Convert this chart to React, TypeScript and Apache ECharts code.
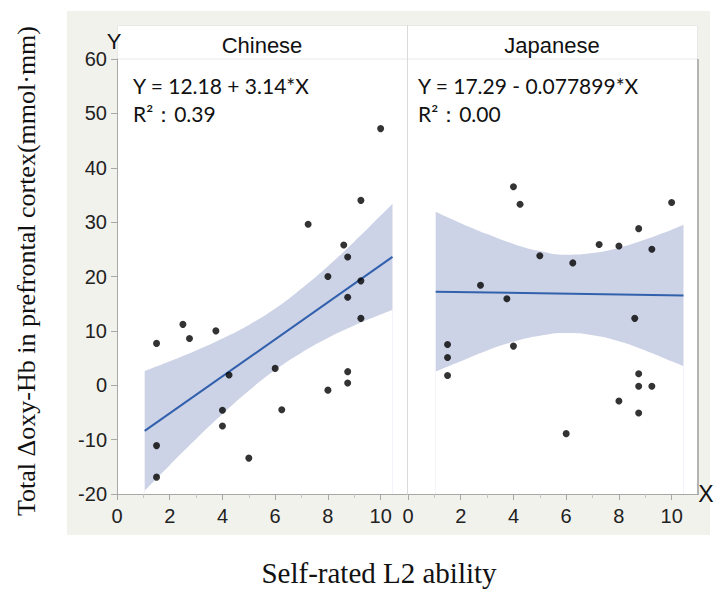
import React, { useEffect, useRef } from "react";
import * as echarts from "echarts";

// ---- data ----
const panelNames = ["Chinese", "Japanese"];
const equations = ["Y = 12.18 + 3.14*X", "Y = 17.29 - 0.077899*X"];
const r2Texts = ["R²：0.39", "R²：0.00"];

const xTickValues = [0, 2, 4, 6, 8, 10];
const xMinorTickValues = [1, 3, 5, 7, 9];

const cnX = [1.5, 1.5, 1.5, 2.5, 2.75, 3.75, 4, 4, 4.25, 5, 6, 6.25, 7.25, 8, 8, 8.6, 8.75, 8.75, 8.75, 8.75, 9.25, 9.25, 9.25, 10];
const cnY = [7.7, -11.1, -16.9, 11.2, 8.6, 10.0, -4.6, -7.5, 1.9, -13.4, 3.1, -4.5, 29.6, -0.9, 20.0, 25.8, 23.6, 16.2, 2.5, 0.4, 34.0, 19.2, 12.3, 47.2];

const jpX = [1.5, 1.5, 1.5, 2.75, 3.75, 4, 4, 4.25, 5, 6, 6.25, 7.25, 8, 8, 8.6, 8.75, 8.75, 8.75, 8.75, 9.25, 9.25, 10];
const jpY = [7.5, 5.1, 1.8, 18.4, 15.9, 36.5, 7.2, 33.3, 23.8, -8.9, 22.5, 25.9, 25.6, -2.9, 12.3, 28.8, 2.1, -0.2, -5.1, 25.0, -0.2, 33.6];

const bandX = [1.05, 2, 3, 4, 5, 6, 7, 8, 9, 10, 10.45];
const cnUpper = [2.6, 4.4, 6.4, 8.6, 11.1, 14.1, 17.8, 21.9, 26.4, 31.2, 33.4];
const cnLower = [-19.4, -14.7, -9.9, -5.3, -1.0, 2.8, 6.0, 8.7, 11.0, 13.0, 13.9];
const jpUpper = [31.9, 29.8, 27.8, 26.0, 24.7, 24.0, 24.3, 25.3, 26.8, 28.6, 29.5];
const jpLower = [2.5, 4.4, 6.4, 8.0, 9.1, 9.6, 9.2, 8.1, 6.4, 4.4, 3.5];

const fitX = [1.05, 10.45];
const cnFitY = [-8.4, 23.6];
const jpFitY = [17.2, 16.5];

const yTitle = "Total Δoxy-Hb in prefrontal cortex(mmol·mm)";
const xTitle = "Self-rated L2 ability";

// ---- style constants ----
const AXIS_GREY = "#a8a8a8";
const BAND = "#cdd3e6";
const FIT = "#3160ad";
const SANS = "Liberation Sans, Arial, sans-serif";
const SERIF = "Liberation Serif, Times New Roman, serif";

function pairs(xs: number[], ys: number[]) {
  return xs.map((x, i) => [x, ys[i]]);
}

function buildOption() {
  const grids = [
    { left: 117, top: 59, width: 290, height: 435, show: false },
    { left: 408, top: 59, width: 290, height: 435, show: false },
  ];

  const xAxes: any[] = [];
  const yAxes: any[] = [];
  [0, 1].forEach((g) => {
    xAxes.push({
      gridIndex: g,
      type: "value",
      position: "bottom",
      min: 0,
      max: 11,
      z: 6,
      axisLine: { show: true, onZero: false, lineStyle: { color: AXIS_GREY, width: 1 } },
      axisTick: { show: true, customValues: xTickValues, length: 6, lineStyle: { color: AXIS_GREY } },
      axisLabel: { customValues: xTickValues, fontSize: 20, color: "#222", margin: 12, fontFamily: SANS },
      splitLine: { show: false },
    });
    xAxes.push({
      gridIndex: g,
      type: "value",
      position: "bottom",
      min: 0,
      max: 11,
      z: 6,
      axisLine: { show: false, onZero: false },
      axisTick: { show: true, customValues: xMinorTickValues, length: 4, lineStyle: { color: "#c4c4c4" } },
      axisLabel: { show: false },
      splitLine: { show: false },
    });
    yAxes.push({
      gridIndex: g,
      type: "value",
      position: "left",
      min: -20,
      max: 60,
      interval: 10,
      show: g === 0,
      z: 6,
      axisLine: { show: true, onZero: false, lineStyle: { color: AXIS_GREY, width: 1 } },
      axisTick: { show: true, length: 6, lineStyle: { color: AXIS_GREY } },
      axisLabel: { fontSize: 20, color: "#222", margin: 10, fontFamily: SANS },
      splitLine: { show: false },
    });
  });

  const panelData = [
    { x: cnX, y: cnY, up: cnUpper, lo: cnLower, fit: cnFitY },
    { x: jpX, y: jpY, up: jpUpper, lo: jpLower, fit: jpFitY },
  ];

  const series: any[] = [];
  panelData.forEach((p, g) => {
    const xi = g * 2;
    // upper edge of the confidence band, filled down to the axis
    series.push({
      type: "line",
      xAxisIndex: xi,
      yAxisIndex: g,
      data: pairs(bandX, p.up),
      symbol: "none",
      smooth: true,
      lineStyle: { width: 0, opacity: 0 },
      areaStyle: { color: BAND, opacity: 1, origin: "start" },
      silent: true,
      z: 1,
    });
    // lower edge, masking the area below it with the plot's white
    series.push({
      type: "line",
      xAxisIndex: xi,
      yAxisIndex: g,
      data: pairs(bandX, p.lo),
      symbol: "none",
      smooth: true,
      lineStyle: { width: 0, opacity: 0 },
      areaStyle: { color: "#ffffff", opacity: 1, origin: "start" },
      silent: true,
      z: 2,
    });
    series.push({
      type: "line",
      xAxisIndex: xi,
      yAxisIndex: g,
      data: pairs(fitX, p.fit),
      symbol: "none",
      lineStyle: { color: FIT, width: 2 },
      silent: true,
      z: 3,
    });
    series.push({
      type: "scatter",
      xAxisIndex: xi,
      yAxisIndex: g,
      data: pairs(p.x, p.y),
      symbolSize: 7,
      itemStyle: { color: "#000" },
      z: 4,
    });
  });

  const graphic: any[] = [
    { type: "rect", z: -10, silent: true, shape: { x: 67, y: 11, width: 643, height: 524 }, style: { fill: "#f2f2ed" } },
    { type: "rect", z: -9, silent: true, shape: { x: 117, y: 25, width: 581, height: 469 }, style: { fill: "#ffffff" } },
    { type: "rect", z: -8, silent: true, shape: { x: 117.5, y: 25.5, width: 580, height: 33.5 }, style: { fill: "none", stroke: "#e8e8e8", lineWidth: 1 } },
    { type: "line", z: 5, silent: true, shape: { x1: 407.5, y1: 25, x2: 407.5, y2: 494 }, style: { stroke: "#dadada", lineWidth: 1 } },
    { type: "line", z: 5, silent: true, shape: { x1: 698, y1: 59, x2: 698, y2: 495 }, style: { stroke: "#b4b4b4", lineWidth: 2 } },
    { type: "text", z: 10, x: 262, y: 45, style: { text: panelNames[0], fontSize: 22, fontFamily: SANS, fill: "#111", align: "center", verticalAlign: "middle" } },
    { type: "text", z: 10, x: 552, y: 45, style: { text: panelNames[1], fontSize: 22, fontFamily: SANS, fill: "#111", align: "center", verticalAlign: "middle" } },
    { type: "text", z: 10, x: 133, y: 85, style: { text: equations[0], fontSize: 21, fontFamily: "Lato", fill: "#111", align: "left", verticalAlign: "middle" } },
    { type: "text", z: 10, x: 133, y: 113, style: { text: r2Texts[0], fontSize: 21, fontFamily: "Lato", fill: "#111", align: "left", verticalAlign: "middle" } },
    { type: "text", z: 10, x: 418, y: 85, style: { text: equations[1], fontSize: 21, fontFamily: "Lato", fill: "#111", align: "left", verticalAlign: "middle" } },
    { type: "text", z: 10, x: 418, y: 113, style: { text: r2Texts[1], fontSize: 21, fontFamily: "Lato", fill: "#111", align: "left", verticalAlign: "middle" } },
    { type: "text", z: 10, x: 114, y: 41, style: { text: "Y", fontSize: 22, fontFamily: SANS, fill: "#111", align: "center", verticalAlign: "middle" } },
    { type: "text", z: 10, x: 706, y: 494, style: { text: "X", fontSize: 23, fontFamily: SANS, fill: "#111", align: "center", verticalAlign: "middle" } },
    { type: "text", z: 10, x: 26, y: 271, rotation: Math.PI / 2, style: { text: yTitle, fontSize: 26, fontFamily: SERIF, fill: "#111", align: "center", verticalAlign: "middle" } },
    { type: "text", z: 10, x: 379, y: 573, style: { text: xTitle, fontSize: 29, fontFamily: SERIF, fill: "#111", align: "center", verticalAlign: "middle" } },
  ];

  return {
    animation: false,
    backgroundColor: "#ffffff",
    grid: grids,
    xAxis: xAxes,
    yAxis: yAxes,
    series,
    graphic,
  };
}

export default function App() {
  const ref = useRef<HTMLDivElement>(null);
  useEffect(() => {
    const chart = echarts.init(ref.current as HTMLDivElement, null, { renderer: "svg" });
    chart.setOption(buildOption() as any);
    return () => chart.dispose();
  }, []);
  return (
    <div
      ref={ref}
      style={{ position: "fixed", left: 0, top: 0, width: 715, height: 591 }}
    />
  );
}
